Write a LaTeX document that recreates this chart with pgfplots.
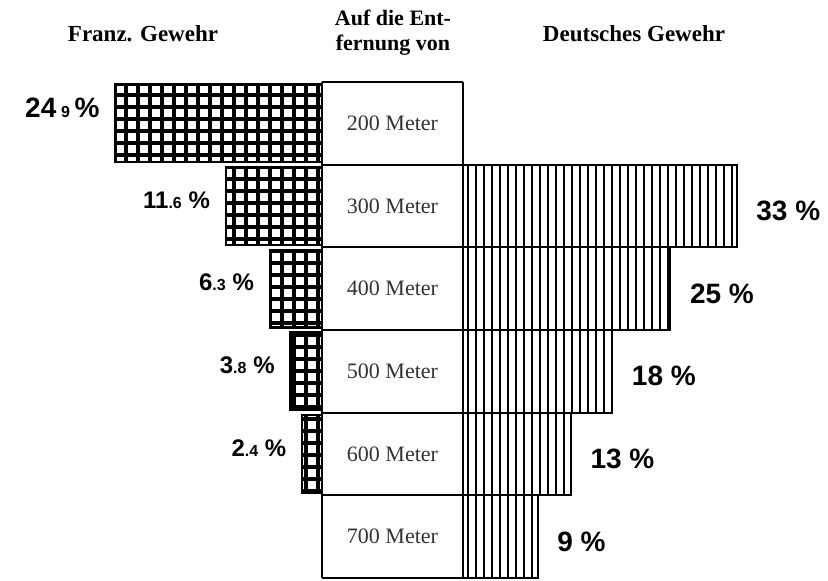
\documentclass[border=0pt]{standalone}
\usepackage{pgfplots}
\pgfplotsset{compat=1.18}
\usetikzlibrary{patterns}
\usepackage{fontspec}
\setmainfont{Liberation Serif}
\newfontfamily\pfont{Liberation Sans}
% large tiles to avoid seams
\pgfdeclarepatternformonly{biggrid}{\pgfpointorigin}{\pgfpoint{300pt}{300pt}}{\pgfpoint{300pt}{300pt}}{%
  \pgfsetlinewidth{1.6pt}%
  \foreach \k in {0,...,49}{%
    \pgfpathmoveto{\pgfpoint{3pt+6pt*\k}{0pt}}\pgfpathlineto{\pgfpoint{3pt+6pt*\k}{300pt}}%
    \pgfpathmoveto{\pgfpoint{0pt}{3pt+6pt*\k}}\pgfpathlineto{\pgfpoint{300pt}{3pt+6pt*\k}}%
  }%
  \pgfusepath{stroke}}
\pgfdeclarepatternformonly{bigvlines}{\pgfpointorigin}{\pgfpoint{300pt}{300pt}}{\pgfpoint{300pt}{300pt}}{%
  \pgfsetlinewidth{0.85pt}%
  \foreach \k in {0,...,74}{%
    \pgfpathmoveto{\pgfpoint{2pt+4pt*\k}{0pt}}\pgfpathlineto{\pgfpoint{2pt+4pt*\k}{300pt}}%
  }%
  \pgfusepath{stroke}}
\begin{document}
\begin{tikzpicture}
\useasboundingbox (0,0) rectangle (414pt,-290.5pt);
% headers
\node[font=\bfseries\fontsize{11.5}{12}\selectfont] at (71.5pt,-17pt) {Franz. Gewehr};
\node[font=\bfseries\fontsize{11}{12.5}\selectfont, align=center] at (196.5pt,-16.5pt) {Auf die Ent-\\fernung von};
\node[font=\bfseries\fontsize{11.5}{12}\selectfont] at (317pt,-17pt) {Deutsches Gewehr};
% middle column
\begin{axis}[
  at={(161pt,-41pt)}, anchor=north west,
  scale only axis, width=70.5pt, height=248pt,
  xmin=0, xmax=1, ymin=-0.5, ymax=5.5, y dir=reverse,
  axis line style={draw=none}, tick style={draw=none},
  xtick=\empty,
  ytick={0,1,2,3,4,5},
  yticklabels={200 Meter,300 Meter,400 Meter,500 Meter,600 Meter,700 Meter},
  yticklabel style={anchor=center, xshift=35.25pt, font=\fontsize{11}{12}\selectfont, text=black!80},
  minor ytick={-0.5,0.5,1.5,2.5,3.5,4.5,5.5},
  yminorgrids=true,
  minor grid style={black, line width=1pt},
  clip=false,
]
\draw[line width=1.3pt] (rel axis cs:1,0) -- (rel axis cs:1,1);
\draw[line width=0.6pt] (rel axis cs:0,0) -- (rel axis cs:0,1);
\end{axis}
% French rifle (left)
\begin{axis}[
  at={(161pt,-41pt)}, anchor=north east,
  scale only axis, width=161pt, height=248pt,
  xmin=0, xmax=38.8, ymin=-0.5, ymax=5.5, y dir=reverse, x dir=reverse,
  hide axis, clip=false,
  xbar, bar width=0.94,
  point meta=explicit symbolic,
  nodes near coords,
]
\addplot[draw=black, line width=1.2pt, pattern=biggrid,
  nodes near coords style={anchor=east, xshift=-4pt, yshift=3pt, font=\pfont\bfseries\fontsize{12}{12}\selectfont}]
coordinates {
  (24.9,0) [{\fontsize{14}{14}\selectfont\smash{24\,{\fontsize{8}{8}\selectfont 9}\,\%}}]
  (11.6,1) [{11{\fontsize{8}{8}\selectfont .6}\ \%}]
  (6.3,2) [{6{\fontsize{8}{8}\selectfont .3}\ \%}]
  (3.8,3) [{3{\fontsize{8}{8}\selectfont .8}\ \%}]
  (2.4,4) [{2{\fontsize{8}{8}\selectfont .4}\ \%}]
};
\end{axis}
% German rifle (right)
\begin{axis}[
  at={(231.5pt,-41pt)}, anchor=north west,
  scale only axis, width=182.5pt, height=248pt,
  xmin=0, xmax=44, ymin=-0.5, ymax=5.5, y dir=reverse,
  hide axis, clip=false,
  xbar, bar width=1,
  point meta=explicit symbolic,
  nodes near coords,
]
\addplot[draw=black, line width=1pt, pattern=bigvlines,
  nodes near coords style={anchor=west, xshift=6pt, yshift=-2.5pt, font=\pfont\bfseries\fontsize{14}{14}\selectfont}]
coordinates {
  (33,1) [{33 \%}]
  (25,2) [{25 \%}]
  (18,3) [{18 \%}]
  (13,4) [{13 \%}]
  (9,5) [{9 \%}]
};
\end{axis}
\end{tikzpicture}
\end{document}
